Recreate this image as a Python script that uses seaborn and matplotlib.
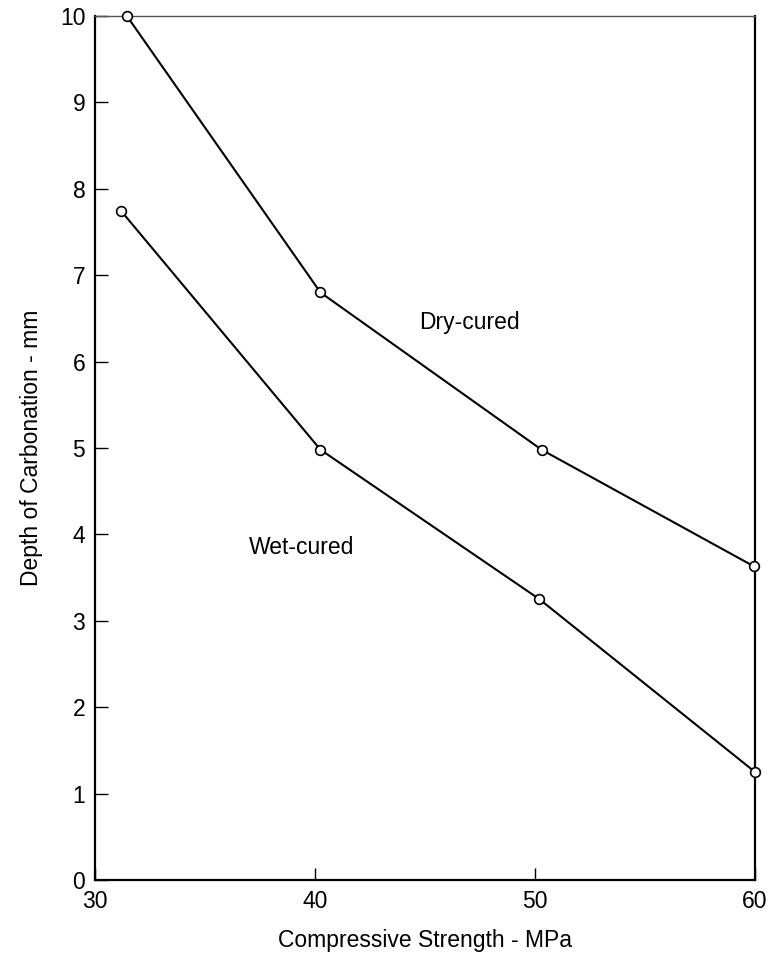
import matplotlib
matplotlib.use("Agg")
import matplotlib.pyplot as plt
import seaborn as sns
import pandas as pd

# values
dry_strength = [31.45, 40.25, 50.3, 59.95]
dry_depth = [10.0, 6.8, 4.98, 3.63]
wet_strength = [31.2, 40.25, 50.2, 60.0]
wet_depth = [7.74, 4.98, 3.25, 1.25]

y_ticks = list(range(0, 11))
x_ticks = [30, 40, 50, 60]

sns.set_style("white")
plt.rcParams['font.family'] = ['Liberation Sans', 'DejaVu Sans']
plt.rcParams['text.color'] = 'black'
plt.rcParams['axes.labelcolor'] = 'black'
plt.rcParams['xtick.color'] = 'black'
plt.rcParams['ytick.color'] = 'black'

dry = pd.DataFrame({"Strength": dry_strength, "Depth": dry_depth})
wet = pd.DataFrame({"Strength": wet_strength, "Depth": wet_depth})

fig = plt.figure(figsize=(7.73, 9.72), dpi=100)
ax = fig.add_axes([0.1229, 0.0947, 0.8538, 0.8888])

style = dict(color="black", linewidth=1.5, marker="o", markersize=7,
             markerfacecolor="white", markeredgecolor="black",
             markeredgewidth=1.2, clip_on=False, zorder=3)
sns.lineplot(data=dry, x="Strength", y="Depth", ax=ax, **style)
sns.lineplot(data=wet, x="Strength", y="Depth", ax=ax, **style)

ax.set_xlim(30, 60)
ax.set_ylim(0, 10)
ax.set_xticks(x_ticks)
ax.set_yticks(y_ticks)
ax.tick_params(direction="in", length=9, width=1, labelsize=16.5,
               left=True, bottom=True, top=False, right=False, pad=7)

for s in ax.spines.values():
    s.set_linewidth(1.6)
    s.set_color("black")
ax.spines["top"].set_linewidth(1.0)
ax.spines["top"].set_color("#555555")

ax.text(47.0, 6.45, "Dry-cured", fontsize=16.5, ha="center", va="center")
ax.text(39.4, 3.85, "Wet-cured", fontsize=16.5, ha="center", va="center")

ax.set_xlabel("Compressive Strength - MPa", fontsize=16.5, labelpad=12)
ax.set_ylabel("Depth of Carbonation - mm", fontsize=16.5, labelpad=12)

fig.savefig("out.png", dpi=100)
